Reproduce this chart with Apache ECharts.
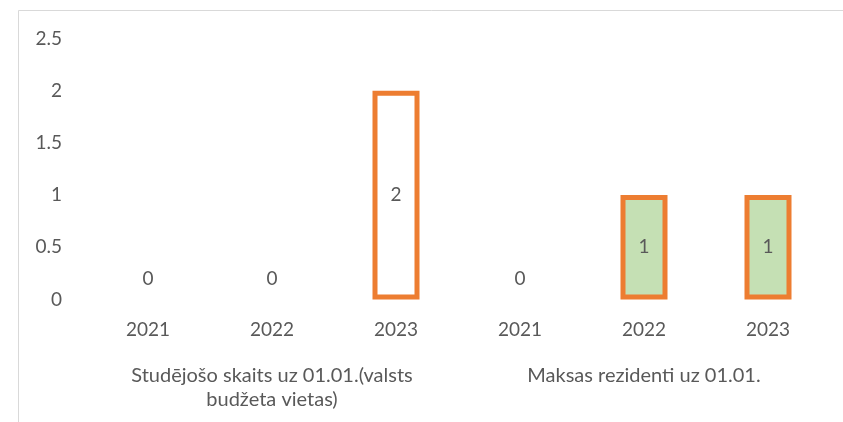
<!DOCTYPE html>
<html>
<head>
<meta charset="utf-8">
<script src="https://cdn.jsdelivr.net/npm/echarts@6/dist/echarts.min.js"></script>
<style>html,body{margin:0;padding:0;background:#fff;}#c{width:843px;height:422px;}</style>
</head>
<body>
<div id="c"></div>
<script>
var years = ['2021', '2022', '2023', '2021', '2022', '2023'];
var groups = ['Studējošo skaits uz 01.01.(valsts\nbudžeta vietas)', 'Maksas rezidenti uz 01.01.'];
var values = [0, 0, 2, 0, 1, 1];
var yTicks = [0, 0.5, 1, 1.5, 2, 2.5];

var fills = ['#ffffff', '#ffffff', '#ffffff', '#ffffff', '#C5E0B4', '#C5E0B4'];
var font = 'Lato';
var txt = '#595959';
var fs = 19;

var data = values.map(function (v, i) {
  var item = { value: v, itemStyle: { color: fills[i], borderColor: '#ED7D31', borderWidth: v === 0 ? 0 : 5 } };
  if (v === 0) {
    item.itemStyle.color = 'rgba(0,0,0,0)';
    item.label = { position: 'top', distance: 11 };
  }
  return item;
});

var chart = echarts.init(document.getElementById('c'));
chart.setOption({
  animation: false,
  backgroundColor: '#fff',
  graphic: [{
    type: 'rect', shape: { x: 18.5, y: 10.5, width: 900, height: 500 },
    style: { fill: 'none', stroke: '#d9d9d9', lineWidth: 1 }, silent: true
  }],
  grid: { left: 86, right: 13, top: 38.5, bottom: 122.5 },
  xAxis: [{
    type: 'category', data: years, position: 'bottom',
    axisLine: { show: false }, axisTick: { show: false },
    axisLabel: { margin: 21, color: txt, fontFamily: font, fontSize: fs }
  }, {
    type: 'category', data: groups, position: 'bottom',
    axisLine: { show: false }, axisTick: { show: false },
    axisLabel: { margin: 64, color: txt, fontFamily: font, fontSize: 20, lineHeight: 24, align: 'center', verticalAlign: 'top' }
  }],
  yAxis: {
    type: 'value', min: 0, max: yTicks[yTicks.length - 1], interval: 0.5,
    axisLine: { show: false }, axisTick: { show: false }, splitLine: { show: false },
    axisLabel: { margin: 24, color: txt, fontFamily: font, fontSize: fs }
  },
  series: [{
    type: 'bar', xAxisIndex: 0, data: data, barWidth: 47,
    label: { show: true, position: 'inside', color: txt, fontFamily: font, fontSize: fs }
  }]
});
</script>
</body>
</html>
